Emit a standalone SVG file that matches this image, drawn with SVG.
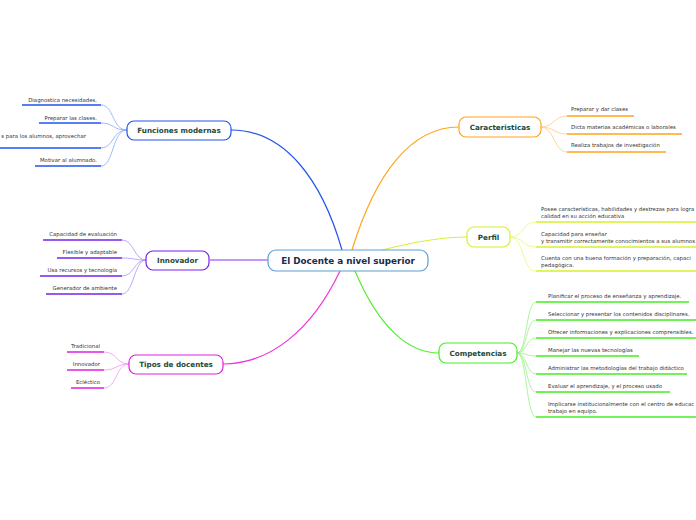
<svg xmlns="http://www.w3.org/2000/svg" width="696" height="520" viewBox="0 0 696 520">
<style>
.nt{font-family:"DejaVu Sans",Verdana,sans-serif;font-weight:bold;font-size:7.2px;fill:#1b4a3c;text-anchor:middle}
.ct{font-family:"DejaVu Sans",Verdana,sans-serif;font-weight:bold;font-size:8.8px;fill:#1a2b4c;text-anchor:middle}
.st{font-family:"DejaVu Sans",Verdana,sans-serif;font-size:5.4px;fill:#333}
.e{text-anchor:end}
.n{fill:#fff;stroke-width:1.2}
</style>
<rect width="696" height="520" fill="#fff"/>
<g id="connectors" fill="none">
  <path d="M342,250 C322,180 285,130 231,130" stroke="#2255ee" stroke-width="1.2"/>
  <path d="M352,250 C375,175 410,127 459,127" stroke="#ffa41a" stroke-width="1.2"/>
  <path d="M382,250 C410,243 440,237 467,237" stroke="#d8f03a" stroke-width="1.2"/>
  <path d="M355,271 C380,330 410,353 439,353" stroke="#55ee33" stroke-width="1.2"/>
  <path d="M340,271 C312,330 270,364 223,364" stroke="#ee33dd" stroke-width="1.2"/>
  <path d="M268,260 L210,260" stroke="#8833ee" stroke-width="1.2"/>
  <g stroke="#88a8ff" stroke-width="0.8">
    <path d="M127,130 C112,130 114,105 101,105"/>
    <path d="M127,130 C112,130 114,123 101,123"/>
    <path d="M127,130 C112,130 114,148 101,148"/>
    <path d="M127,130 C112,130 114,166 101,166"/>
  </g>
  <g stroke="#2255ee" stroke-width="1.6">
    <path d="M22,105H101M39,123H101M0,148H101M35,166H101"/>
  </g>
  <g stroke="#b090ff" stroke-width="0.8">
    <path d="M146,260 C134,260 134,240 122,240"/>
    <path d="M146,260 C134,260 134,258 122,258"/>
    <path d="M146,260 C134,260 134,276 122,276"/>
    <path d="M146,260 C134,260 134,294 122,294"/>
  </g>
  <g stroke="#7722ee" stroke-width="1.6">
    <path d="M43,240H122M57,258H122M40,276H122M46,294H122"/>
  </g>
  <g stroke="#f098f0" stroke-width="0.8">
    <path d="M129,364 C116,364 117,352 104,352"/>
    <path d="M129,364 C116,364 117,370 104,370"/>
    <path d="M129,364 C116,364 117,388 104,388"/>
  </g>
  <g stroke="#e020e0" stroke-width="1.6">
    <path d="M67,352H104M67,370H104M71,388H104"/>
  </g>
  <g stroke="#ffcc80" stroke-width="0.8">
    <path d="M541,127 C554,127 554,116 567,116"/>
    <path d="M541,127 C554,127 554,134 567,134"/>
    <path d="M541,127 C554,127 554,152 567,152"/>
  </g>
  <g stroke="#ffa41a" stroke-width="1.6">
    <path d="M567,116H634M567,134H682M567,152H666"/>
  </g>
  <g stroke="#e8f87a" stroke-width="0.8">
    <path d="M510,237 C524,237 522,222 536,222"/>
    <path d="M510,237 C524,237 522,247 536,247"/>
    <path d="M510,237 C524,237 522,271 536,271"/>
  </g>
  <g stroke="#d8f02a" stroke-width="1.6">
    <path d="M536,222H696M536,247H696M536,271H696"/>
  </g>
  <g stroke="#99f088" stroke-width="0.8">
    <path d="M517,353 C527,353 526,302 536,302"/>
    <path d="M517,353 C527,353 526,320 536,320"/>
    <path d="M517,353 C527,353 526,338 536,338"/>
    <path d="M517,353 C527,353 526,356 536,356"/>
    <path d="M517,353 C527,353 526,374 536,374"/>
    <path d="M517,353 C527,353 526,392 536,392"/>
    <path d="M517,353 C527,353 526,417 536,417"/>
  </g>
  <g stroke="#44ee22" stroke-width="1.6">
    <path d="M536,302H689M536,320H696M536,338H696M536,356H639M536,374H687M536,392H670M536,417H696"/>
  </g>
</g>
<g id="central">
  <rect x="268" y="250" width="160" height="21" rx="8" class="n" stroke="#5a9fd8"/>
  <text x="348" y="264" class="ct">El Docente a nivel superior</text>
</g>
<g id="funciones">
  <rect x="127" y="121" width="104" height="19" rx="7" class="n" stroke="#2255ee"/>
  <text x="179" y="133" class="nt">Funciones modernas</text>
  <text x="97" y="102" class="st e">Diagnostica  necesidades.</text>
  <text x="97" y="120" class="st e">Preparar las clases.</text>
  <text x="86" y="138" class="st e">s para los alumnos, aprovechar</text>
  <text x="97" y="162" class="st e">Motivar al alumnado.</text>
</g>
<g id="innovador">
  <rect x="146" y="251" width="63" height="19" rx="7" class="n" stroke="#7722ee"/>
  <text x="177.5" y="263" class="nt">Innovador</text>
  <text x="117" y="236" class="st e">Capacidad de evaluación</text>
  <text x="117" y="254" class="st e">Flexible y adaptable</text>
  <text x="117" y="272" class="st e">Usa recursos y tecnología</text>
  <text x="117" y="290" class="st e">Generador de ambiente</text>
</g>
<g id="tipos">
  <rect x="129" y="355" width="94" height="19" rx="7" class="n" stroke="#e020e0"/>
  <text x="176" y="367" class="nt">Tipos de docentes</text>
  <text x="100" y="348" class="st e">Tradicional</text>
  <text x="100" y="366" class="st e">Innovador</text>
  <text x="100" y="384" class="st e">Ecléctico</text>
</g>
<g id="caracteristicas">
  <rect x="459" y="117" width="82" height="20" rx="7" class="n" stroke="#ffa41a"/>
  <text x="500" y="129.6" class="nt">Caracteristicas</text>
  <text x="571" y="111" class="st">Preparar y dar clases</text>
  <text x="571" y="129" class="st">Dicta materias académicas o laborales</text>
  <text x="571" y="147" class="st">Realiza trabajos de investigación</text>
</g>
<g id="perfil">
  <rect x="467" y="227" width="43" height="20" rx="7" class="n" stroke="#d8f02a"/>
  <text x="488.5" y="239.6" class="nt">Perfil</text>
  <text x="541" y="211" class="st">Posee características, habilidades y destrezas para logra</text>
  <text x="541" y="218" class="st">calidad en su acción educativa</text>
  <text x="541" y="236" class="st">Capacidad para enseñar</text>
  <text x="541" y="243" class="st">y transmitir correctamente conocimientos a sus alumnos</text>
  <text x="541" y="260" class="st">Cuenta con una buena formación y preparación,  capaci</text>
  <text x="541" y="267" class="st">pedagógica.</text>
</g>
<g id="competencias">
  <rect x="439" y="343" width="78" height="20" rx="7" class="n" stroke="#44ee22"/>
  <text x="478" y="355.6" class="nt">Competencias</text>
  <text x="548" y="298" class="st">Planificar el proceso de enseñanza y aprendizaje.</text>
  <text x="548" y="316" class="st">Seleccionar y presentar los contenidos disciplinares.</text>
  <text x="548" y="334" class="st">Ofrecer informaciones y explicaciones comprensibles.</text>
  <text x="548" y="352" class="st">Manejar las nuevas tecnologías</text>
  <text x="548" y="370" class="st">Administrar las metodologías del trabajo didáctico</text>
  <text x="548" y="388" class="st">Evaluar el aprendizaje, y el proceso usado</text>
  <text x="548" y="406" class="st">Implicarse institucionalmente con el centro de educac</text>
  <text x="548" y="413" class="st">trabajo en equipo.</text>
</g>
</svg>
